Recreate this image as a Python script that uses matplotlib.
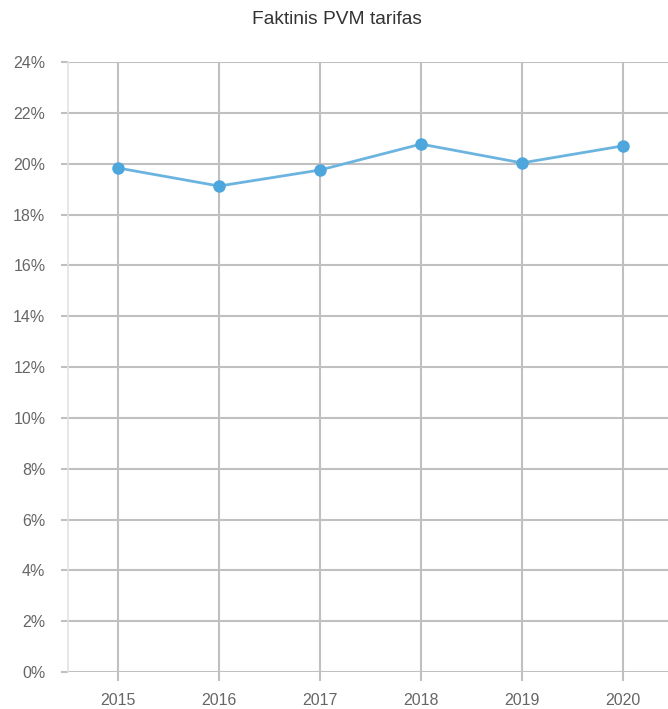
import matplotlib
matplotlib.use("Agg")
import matplotlib.pyplot as plt
from matplotlib.ticker import FuncFormatter, MultipleLocator

years = ["2015", "2016", "2017", "2018", "2019", "2020"]
rates = [19.83, 19.12, 19.75, 20.77, 20.03, 20.70]
title = "Faktinis PVM tarifas"

plt.rcParams['font.family'] = ['Liberation Sans', 'DejaVu Sans']

W, H = 668, 709
fig = plt.figure(figsize=(W / 100, H / 100), dpi=100)
left, right = 67.5, 673.5
top, bottom = 62, 672
ax = fig.add_axes([left / W, (H - bottom) / H, (right - left) / W, (bottom - top) / H])

grid_c = "#c0c0c0"
x = list(range(len(years)))
ax.plot(x, rates, color="#6cb4e0", lw=2, zorder=3, clip_on=False)
ax.plot(x, rates, 'o', color="#4da6dc", ms=9, mec="none", zorder=4, clip_on=False)

ax.set_xlim(-0.5, len(years) - 0.5)
ax.set_ylim(0, 24)
ax.yaxis.set_major_locator(MultipleLocator(2))
ax.yaxis.set_major_formatter(FuncFormatter(lambda v, p: f"{v:.0f}%"))
ax.set_xticks(x)
ax.set_xticklabels(years)

ax.grid(True, color=grid_c, lw=1.5)
ax.set_axisbelow(True)
for s in ["top", "right", "bottom"]:
    ax.spines[s].set_visible(False)
ax.spines["left"].set_color("#e2e2e2")
ax.spines["left"].set_linewidth(1.2)

ax.tick_params(axis='both', colors=grid_c, width=1.5,
               labelcolor="#666666", labelsize=11.5)
ax.tick_params(axis='y', length=5.4, pad=10.5)
ax.tick_params(axis='x', length=6.2, pad=9)

fig.text(336.5 / W, 1 - 20 / H, title, ha="center", va="center",
         fontsize=13.8, color="#333333")

fig.savefig("out.png", dpi=100, facecolor="white")
